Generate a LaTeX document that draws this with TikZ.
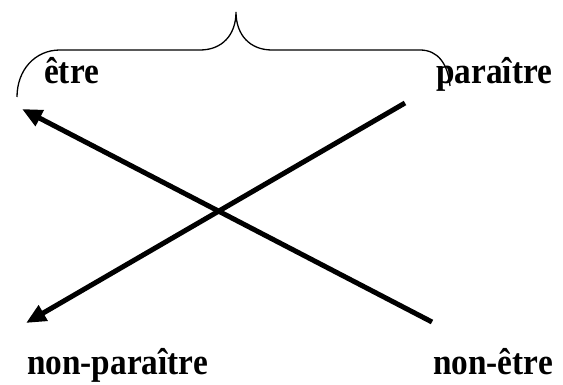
\documentclass[tikz,border=0pt]{standalone}
\usepackage{fontspec}
\setmainfont{Liberation Serif}
\usetikzlibrary{arrows.meta}
\newcommand{\wordtext}[1]{\scalebox{0.9}[1]{#1}}
\begin{document}
\begin{tikzpicture}[x=1pt,y=-1pt,
  word/.style={anchor=base west,inner sep=0pt,font=\fontsize{37}{42}\selectfont\bfseries},
  bigarrow/.style={line width=5pt,-{Triangle[length=20pt,width=17pt]}},
  bracepath/.style={line width=1.3pt}]
\useasboundingbox (0,0) rectangle (563,385);
\node[word] (etre) at (44,84) {\wordtext{être}};
\node[word] (paraitre) at (436,84) {\wordtext{paraître}};
\node[word] (nonparaitre) at (27,374) {\wordtext{non-paraître}};
\node[word] (nonetre) at (433,374) {\wordtext{non-être}};
\coordinate (a1s) at (432,322);
\coordinate (a1e) at (22,109);
\coordinate (a2s) at (405,103);
\coordinate (a2e) at (26,323);
\draw[bigarrow] (a1s) -- (a1e);
\draw[bigarrow] (a2s) -- (a2e);
\coordinate (bl) at (17,97);
\coordinate (bt) at (236,12);
\coordinate (br) at (450,86);
\draw[bracepath] (bl) .. controls (17,70) and (35,50) .. (60,50) -- (200,50)
  .. controls (222,50) and (236,35) .. (bt)
  .. controls (236,35) and (250,50) .. (272,50) -- (420,50)
  .. controls (438,50) and (448,64) .. (br);
\end{tikzpicture}
\end{document}
